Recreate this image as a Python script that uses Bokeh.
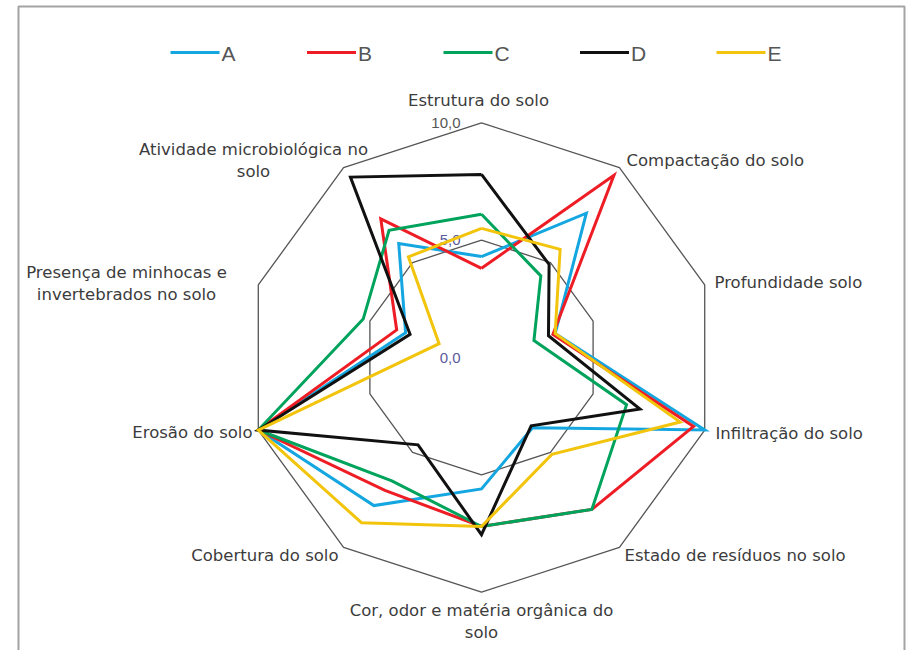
import numpy as np
from bokeh.plotting import figure
from bokeh.models import Range1d
from bokeh.embed import file_html
from bokeh.resources import INLINE
from bokeh.core.properties import value

# ---------------- data ----------------
categories = [
    "Estrutura do solo",
    "Compactação do solo",
    "Profundidade  solo",
    "Infiltração do solo",
    "Estado de resíduos no solo",
    "Cor, odor e matéria orgânica do solo",
    "Cobertura do solo",
    "Erosão do solo",
    "Presença de minhocas e invertebrados no solo",
    "Atividade microbiológica no solo",
]
series_names = ["A", "B", "C", "D", "E"]
values_A = [4.3, 7.6, 3.3, 10.0, 3.7, 5.6, 7.8, 10.0, 3.4, 6.0]
values_B = [3.8, 9.6, 3.2, 9.5, 8.0, 7.2, 7.0, 10.0, 3.8, 7.3]
values_C = [6.1, 4.3, 2.35, 6.5, 8.0, 7.2, 6.5, 10.0, 5.3, 6.7]
values_D = [7.8, 4.9, 3.0, 7.1, 3.6, 7.55, 4.6, 10.0, 3.2, 9.5]
values_E = [5.5, 5.7, 3.3, 8.9, 5.1, 7.2, 8.7, 10.0, 1.9, 5.3]
tick_values = [0.0, 5.0, 10.0]
tick_labels = ["0,0", "5,0", "10,0"]
grid_levels = [5.0, 10.0]

series_values = [values_A, values_B, values_C, values_D, values_E]
series_colors = ["#14a6e0", "#ee1c24", "#00a35c", "#111111", "#f2c40c"]

# ---------------- geometry (page pixels) ----------------
CX, CY, S = 481.0, 357.0, 23.47      # centre and pixels per unit
W, H = 912, 650
PX0, PY0 = 0, 0


def dx(px):
    return (px - CX) / S


def dy(py):
    return (CY - py) / S


n = len(categories)
theta = np.deg2rad(np.arange(n) * 360.0 / n)
sin_t, cos_t = np.sin(theta), np.cos(theta)

p = figure(width=W, height=H, output_backend="svg", toolbar_location=None,
           x_axis_type=None, y_axis_type=None, title=None,
           x_range=Range1d(dx(PX0), dx(PX0 + W)),
           y_range=Range1d(dy(PY0 + H), dy(PY0)),
           min_border=0, outline_line_color=None,
           background_fill_color="white", border_fill_color="white")
p.grid.visible = False

# outer frame of the chart area
p.line([dx(18), dx(18), dx(904), dx(904)], [dy(700), dy(6), dy(6), dy(700)],
       line_color="#a3a3a3", line_width=2)

# decagon grid
for lv in grid_levels:
    gx = list(lv * sin_t) + [lv * sin_t[0]]
    gy = list(lv * cos_t) + [lv * cos_t[0]]
    p.line(gx, gy, line_color="#555555", line_width=1.3)

# tick labels on the vertical axis
tick_colors = ["#5a5a9c", "#5a5a9c", "#555555"]
p.text(x=[dx(CX - 21)] * len(tick_values), y=tick_values, text=tick_labels,
       text_align="right", text_baseline="middle",
       text_font=value("Liberation Sans"), text_font_size="15px",
       text_color=tick_colors)

# series
for vals, col in zip(series_values, series_colors):
    v = np.array(vals)
    xs = list(v * sin_t) + [v[0] * sin_t[0]]
    ys = list(v * cos_t) + [v[0] * cos_t[0]]
    p.line(xs, ys, line_color=col, line_width=3, line_join="miter")

# category labels (lines, anchor px x, px y, align)
label_layout = [
    (["Estrutura do solo"], 478, 100, "center"),
    (["Compactação do solo"], 626, 160, "left"),
    (["Profundidade  solo"], 714, 282, "left"),
    (["Infiltração do solo"], 715, 433, "left"),
    (["Estado de resíduos no solo"], 624, 555, "left"),
    (["Cor, odor e matéria orgânica do", "solo"], 481, 610, "center"),
    (["Cobertura do solo"], 338, 555, "right"),
    (["Erosão do solo"], 252, 432, "right"),
    (["Presença de minhocas e", "invertebrados no solo"], 126, 272, "center"),
    (["Atividade microbiológica no", "solo"], 253, 149, "center"),
]
LINE_H = 22
for lines, ax, ay, al in label_layout:
    p.text(x=[dx(ax)] * len(lines), y=[dy(ay + k * LINE_H) for k in range(len(lines))],
           text=lines, text_align=al, text_baseline="middle",
           text_font=value("DejaVu Sans"), text_font_size="16.5px",
           text_color="#3c3c3c")

# legend (manual, horizontal)
for i, (name, col) in enumerate(zip(series_names, series_colors)):
    x0 = 170 + i * 136.5
    p.line([dx(x0), dx(x0 + 49)], [dy(52), dy(52)], line_color=col, line_width=3)
    p.text(x=[dx(x0 + 51)], y=[dy(53)], text=[name], text_align="left",
           text_baseline="middle", text_font=value("Liberation Sans"),
           text_font_size="21px", text_color="#555555")

open("out.html", "w").write(file_html(p, INLINE))
